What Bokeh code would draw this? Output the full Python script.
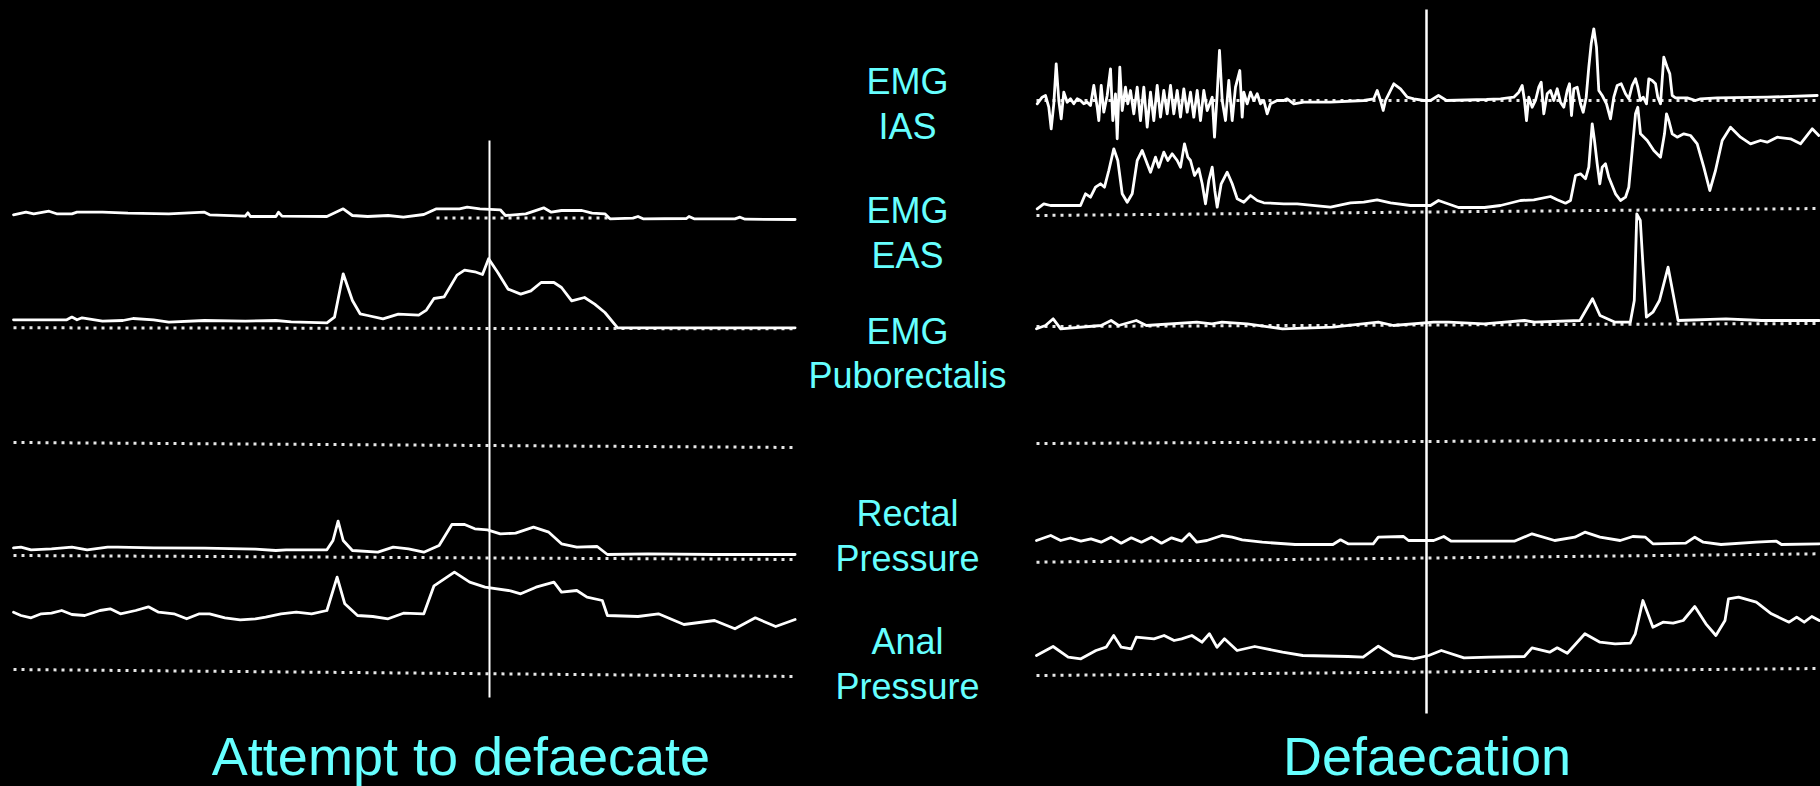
from bokeh.plotting import figure
from bokeh.layouts import row
from bokeh.models import Range1d, ColumnDataSource, Label, GlobalInlineStyleSheet
from bokeh.transform import dodge
from bokeh.core.properties import value
from bokeh.embed import file_html
from bokeh.resources import INLINE

# ---------------- DATA: (time s, amplitude a.u. above the channel's zero) ----------------
# Left record: "Attempt to defaecate"
attempt_ias = [(0, 3.2), (1.25, 5.8), (2.02, 4.2), (3.55, 6.8), (4.31, 4.2), (5.84, 4.2), (6.35, 5.8),
               (8.9, 5.8), (11.45, 4.8), (15.53, 4.2), (19.1, 5.8), (19.61, 3.2), (23.18, 1.8), (23.44, 5.2),
               (23.69, 1.5), (26.24, 1.5), (26.5, 5.8), (26.85, 1.8), (31.34, 1.5), (32.97, 9.2), (33.89, 2.5),
               (35.42, 1.5), (37.46, 2.5), (38.99, 0.8), (41.03, 3.5), (42.3, 9.2), (44.6, 9.2), (45.37, 10.8),
               (46.64, 9.2), (48.68, 8.2), (49.19, 2.5), (51.23, 4.2), (53.02, 10.2), (53.78, 5.8), (54.8, 7.5),
               (56.84, 7.5), (57.86, 4.8), (59.14, 4.2), (59.65, -0.8), (61.94, -0.2), (62.45, 1.5), (62.96, -0.8),
               (67.3, -0.5), (67.55, 1.5), (68.06, -0.8), (72.14, -0.8), (72.65, 0.8), (73.16, -1.2), (78.16, -1.5)]
attempt_eas = [(0, 8), (5.33, 8), (5.84, 10.7), (6.35, 8), (6.86, 10), (8.9, 6.7), (10.94, 7.3), (11.96, 9.3),
               (14, 8), (15.53, 5.7), (19.1, 7.3), (23.18, 6.7), (26.24, 7.3), (27.77, 6), (31.34, 5), (32.1, 10.7),
               (32.97, 54), (33.89, 27.3), (34.66, 14), (35.42, 12.3), (36.95, 9), (38.48, 13.7), (40.52, 12.7),
               (41.29, 17.7), (42.05, 29.3), (43.07, 31), (44.35, 52.7), (45.11, 57.7), (46.13, 56), (46.9, 53.3),
               (47.51, 69), (48.43, 55.3), (49.45, 38.7), (50.72, 33.7), (51.74, 37), (52.76, 45.3), (54.04, 45.3),
               (54.8, 40.3), (55.82, 27), (57.1, 30.3), (58.12, 23.7), (59.14, 15.3), (60.41, 0), (78.16, 0)]
attempt_rectal = [(0, 9.7), (0.74, 10.3), (1.76, 7.7), (3.8, 8.7), (5.84, 10.3), (7.37, 7.7), (9.41, 10.3),
                  (10.43, 10.3), (14, 9.7), (19.1, 9.3), (24.2, 8.3), (26.24, 7), (27.26, 7.7), (31.34, 7.7),
                  (31.95, 17), (32.46, 36.3), (32.97, 17), (33.89, 7), (36.44, 5.3), (37.97, 10.3), (39.5, 8.7),
                  (41.03, 5.3), (42.56, 12), (43.84, 33), (45.11, 33), (46.13, 28.7), (47.4, 27.7), (48.68, 23.7),
                  (50.21, 24.3), (52, 30.3), (53.53, 25.3), (54.8, 13.7), (56.33, 10.3), (58.37, 11), (59.39, 3),
                  (63.47, 3.7), (70.1, 3), (78.16, 3)]
attempt_anal = [(0, 60.3), (0.74, 57), (1.76, 54.7), (2.78, 58.7), (3.8, 59.3), (4.82, 62), (5.84, 58), (7.12, 57),
                (8.65, 62), (9.67, 63.7), (10.69, 58.7), (12.22, 62), (13.49, 65.7), (14.51, 60.3), (16.04, 58.7),
                (17.32, 53.7), (18.59, 58.7), (19.61, 58.7), (21.14, 54.7), (22.67, 52.7), (24.2, 53.7),
                (25.22, 55.3), (26.75, 58.7), (28.28, 60.3), (29.81, 58.7), (31.34, 62), (32.36, 95.3),
                (33.13, 68.7), (34.4, 57), (35.93, 56), (37.46, 53.7), (38.99, 59.3), (41.03, 58.7), (42.05, 86.7),
                (44.09, 100.3), (45.62, 90.3), (47.15, 85.3), (49.7, 81.7), (50.72, 78.7), (52.25, 85.3),
                (54.04, 90.3), (54.8, 80.3), (56.33, 82), (57.35, 75.3), (58.88, 72), (59.39, 57), (62.45, 56),
                (64.49, 58.7), (67.04, 48), (70.1, 52), (72.14, 43.7), (74.18, 54.7), (76.22, 46), (78.16, 53)]
attempt_event_t = 47.6

# Right record: "Defaecation"
defaec_ias = [(0.07, -3.3), (0.57, 3.3), (0.9, 5), (1.23, -6.7), (1.47, -28.3), (1.73, -3.3), (1.97, 36.7),
              (2.23, 0), (2.47, -18.3), (2.73, 8.3), (3.07, -1.7), (3.4, 1.7), (3.73, -3.3), (4.07, 1.7), (4.4, 0),
              (4.73, -3.3), (5.07, -1.7), (5.4, -5), (5.73, 15), (6.07, -6.7), (6.23, -20), (6.47, 15),
              (6.73, -11.7), (7.07, 5), (7.4, 31.7), (7.63, -20), (7.9, 6.7), (8.07, -38.3), (8.33, 33.3),
              (8.57, -10), (8.9, 13.3), (9.13, -3.3), (9.4, 10), (9.73, -13.3), (10.07, 13.3), (10.4, -20),
              (10.73, 13.3), (11.07, -26.7), (11.4, 8.3), (11.73, -20), (12.07, 15), (12.4, -16.7), (12.73, 10),
              (13.07, -13.3), (13.4, 15), (13.73, -13.3), (14.07, 10), (14.4, -16.7), (14.73, 11.7),
              (15.07, -11.7), (15.4, 8.3), (15.73, -16.7), (16.07, 10), (16.4, -20), (16.73, 10), (17.07, -10),
              (17.57, 3.3), (17.8, -36.7), (18.07, 6.7), (18.3, 50), (18.57, 0), (18.9, -20), (19.23, 20),
              (19.57, -20), (19.9, 13.3), (20.33, 30), (20.57, -16.7), (20.73, 8.3), (21.07, -3.3), (21.4, 8.3),
              (21.73, 0), (22.07, 6.7), (22.4, -3.3), (22.73, 0), (23.07, -13.3), (23.4, -3.3), (24.07, 0),
              (24.73, 0), (25.07, 1.7), (25.73, -3.3), (26.73, -1.7), (29.4, -1.7), (32.73, 0), (33.73, 1.7),
              (34.07, 10), (34.4, 0), (34.67, -10), (34.9, 0), (35.73, 16.7), (36.4, 11.7), (37.07, 3.3),
              (37.73, 1.7), (38.73, 0), (39.4, 0), (40.2, 5), (41.0, 0), (45.0, 1), (46.4, 1.7), (47.73, 3.3),
              (48.23, 8.3), (48.57, 15), (48.8, 0), (49.0, -20), (49.23, 3.3), (49.57, -6.7), (49.9, 0),
              (50.23, 13.3), (50.47, 18.3), (50.73, -13.3), (51.07, 6.7), (51.4, 10), (51.73, 0), (52.07, 11.7),
              (52.4, -1.7), (52.73, -6.7), (53.07, 10), (53.3, 16.7), (53.5, -15), (53.73, 11.7), (54.07, 13.3),
              (54.4, -3.3), (54.67, -11.7), (54.97, 3.3), (55.23, 33.3), (55.47, 56.7), (55.73, 71.7),
              (56.0, 53.3), (56.23, 10), (56.57, 5), (57.0, -3.3), (57.4, -18.3), (57.73, 3.3), (58.07, 15),
              (58.47, 16.7), (58.9, 6.7), (59.23, 1.7), (59.57, 15), (59.9, 21.7), (60.13, 13.3), (60.4, 0),
              (60.67, 3.3), (61.0, -3.3), (61.23, 21.7), (61.57, 20), (61.9, 16.7), (62.13, 3.3), (62.4, -3.3),
              (62.73, 43.3), (63.07, 33.3), (63.33, 26.7), (63.57, 5), (63.9, 2.7), (65.07, 2.7), (65.9, 0),
              (66.4, 1.7), (68.07, 2.7), (73.07, 3.3), (78.07, 5)]
defaec_eas = [(0.07, -3.3), (0.73, 1.7), (1.4, 0), (4.4, 0), (4.9, 11.7), (5.4, 8.3), (5.9, 18.3), (6.4, 21.7),
              (6.8, 18.3), (7.23, 35), (7.73, 56.7), (8.13, 45), (8.57, 11.7), (9.07, 3.3), (9.57, 11.7),
              (10.07, 45), (10.57, 55), (11.07, 41.7), (11.4, 33.3), (11.9, 48.3), (12.23, 38.3), (12.73, 53.3),
              (13.13, 45), (13.57, 51.7), (14.07, 45), (14.4, 38.3), (14.8, 61.7), (15.13, 48.3), (15.4, 45),
              (15.8, 30), (16.23, 36.7), (16.57, 21.7), (16.9, 1.7), (17.23, 25), (17.57, 38.3), (17.83, 15),
              (18.07, -1.7), (18.47, 21.7), (19.07, 33.3), (19.57, 21.7), (20.07, 6.7), (20.73, 3.3), (21.4, 10),
              (22.07, 5), (22.73, 2.7), (24.73, 1.7), (26.07, 1.7), (29.4, -1.7), (31.4, 2.7), (32.73, 3.3),
              (34.07, 5.7), (35.4, 2.7), (37.4, 0), (39.4, 0), (40.2, 5), (42.2, -2), (44.8, -2), (46.4, 0),
              (48.4, 5), (49.73, 5.7), (51.4, 9), (52.07, 5.7), (52.9, 2.3), (53.4, 5), (53.9, 30), (54.4, 31.7),
              (54.9, 26.7), (55.23, 38.3), (55.57, 81.7), (55.8, 65), (56.07, 41.7), (56.33, 21.7), (56.57, 38.3),
              (56.9, 41.7), (57.23, 28.3), (57.9, 11.7), (58.4, 5), (58.9, 8.3), (59.23, 18.3), (59.57, 55),
              (59.9, 91.7), (60.13, 98.3), (60.4, 71.7), (61.07, 65), (61.73, 55), (62.4, 48.3), (62.8, 71.7),
              (63.0, 91.7), (63.23, 85), (63.57, 71.7), (64.07, 68.3), (64.73, 71.7), (65.4, 70), (66.07, 61.7),
              (66.73, 38.3), (67.33, 15), (67.9, 35), (68.57, 65), (69.4, 78.3), (70.4, 68.3), (71.4, 61.7),
              (72.4, 65), (73.07, 63.3), (74.07, 68.3), (75.4, 66.7), (76.4, 61.7), (77.57, 76.7), (78.23, 70)]
defaec_pub = [(0, -1.3), (0.9, 2), (1.67, 8.7), (2.42, -1.3), (6.46, 2), (7.46, 7), (8.22, 2), (9.98, 7),
              (10.99, 2), (16.03, 5.3), (17.54, 3.7), (18.55, 5.3), (21.07, 3.7), (24.6, -1.3), (29.64, 0.3),
              (34.18, 5.3), (35.69, 2), (39.72, 5.3), (41.23, 5.3), (44.76, 3.7), (48.79, 7), (49.8, 5.3),
              (54.34, 7), (55.6, 28.7), (56.35, 12), (57.86, 5.3), (59.38, 5.3), (59.78, 27), (60.03, 113.7),
              (60.38, 107), (60.64, 63.7), (60.99, 10.3), (61.64, 15.3), (62.3, 27), (63.16, 60.3), (63.66, 33.7),
              (64.16, 7), (68.95, 8.7), (72.48, 7), (78.28, 7)]
defaec_rectal = [(0, 0), (1.42, 5), (2.42, 0), (3.4, 2.5), (4.44, -0.7), (5.45, 1.7), (6.46, -1.7), (7.46, 3.3),
                 (8.47, -2.7), (9.48, 2.7), (10.49, -1.7), (11.5, 3.3), (12.5, -2.7), (13.51, 2.7), (14.52, -0.7),
                 (15.28, 6.7), (16.03, -1.7), (17.04, 0), (18.55, 5), (19.56, 3.3), (20.57, 0.7), (22.58, -1.7),
                 (25.86, -4), (29.64, -4), (30.4, 0.7), (31.15, -3.3), (33.67, -3.3), (34.18, 3.3), (36.7, 4),
                 (37.2, 0), (39.72, 0), (40.73, 4), (41.48, -0.7), (47.78, -0.7), (49.55, 6.7), (51.82, 0),
                 (53.83, 3.3), (54.84, 8.3), (56.35, 3.3), (58.37, 0), (59.63, 4), (60.89, 3.3), (61.64, -3.3),
                 (64.92, -2.7), (65.83, 3.3), (66.68, -1.7), (68.45, -4), (71.98, -1.7), (73.99, -0.7),
                 (74.5, -4), (78.28, -3.3)]
defaec_anal = [(0, -2), (1.66, 7), (3.17, -3.7), (4.44, -5.3), (5.95, 3), (6.96, 6.3), (7.72, 18), (8.47, 6.3),
               (9.48, 4.7), (9.98, 16.3), (10.74, 15.7), (11.75, 14.7), (12.76, 18), (13.76, 13), (14.52, 14.7),
               (15.53, 18), (16.54, 11.3), (17.29, 19.7), (18.05, 6.3), (18.8, 14.7), (20.06, 3), (21.83, 7),
               (24.6, 1.3), (26.62, -2), (31.15, -3), (32.66, -3.7), (34.18, 7.3), (35.69, -2), (37.7, -5.3),
               (39.22, -2), (40.48, 3), (42.75, -4.3), (45.27, -3.7), (48.79, -3), (49.55, 5.7), (51.31, 1.3),
               (52.07, 5.7), (53.08, 0.3), (54.84, 19.7), (56.35, 11.3), (57.86, 9.7), (59.38, 10.3),
               (59.88, 19.7), (60.64, 53), (61.64, 26.3), (62.65, 31.3), (63.66, 30.3), (64.67, 33), (65.83, 47),
               (66.94, 29.7), (67.94, 18), (68.85, 33), (69.2, 54.7), (70.21, 56.3), (71.98, 51.3), (73.49, 39.7),
               (75.26, 31.3), (76.02, 36.3), (76.77, 31.3), (77.53, 37), (78.28, 33)]
defaec_event_t = 39.0

channel_labels = [("EMG", "IAS"), ("EMG", "EAS"), ("EMG", "Puborectalis"),
                  ("Rectal", "Pressure"), ("Anal", "Pressure")]
panel_titles = ["Attempt to defaecate", "Defaecation"]

# ---------------- LAYOUT / STYLE ----------------
PANEL_H = 786
LEFT_W, MID_W, RIGHT_W = 800, 230, 790
TRACE = "#ffffff"
CYAN = "#66ffff"
FONT = "Liberation Sans"

# vertical position of each channel's zero (panel units from bottom)
left_zero = {"ias": 568.5, "eas": 458.7, "rectal": 229.0, "anal": 114.0}
right_zero = {"ias": 686.0, "eas": 581.0, "pub": 459.0, "rectal": 246.0, "anal": 133.0}
# dotted reference lines: (t0, t1, y0, y1)
left_dots = [(42.3, 59.4, 568.5, 568.5), (0, 78.2, 458.7, 457.7), (0, 78.2, 344, 339),
             (0, 78.2, 231, 227), (0, 78.2, 117, 110)]
right_dots = [(0, 78.3, 686, 686), (0, 78.3, 571, 578), (0, 78.3, 460, 463), (0, 78.3, 343, 347),
              (0, 78.3, 224.3, 232.7), (0, 78.3, 111, 118)]
left_event_span = (89, 646)
right_event_span = (73, 777)
label_x = 107
label_baselines = [(705, 660), (576, 531), (455, 411), (273, 228), (145, 100)]
title_y = 31


def panel(width, t0, t1):
    p = figure(width=width, height=PANEL_H, x_range=Range1d(t0, t1), y_range=Range1d(0, PANEL_H),
               output_backend="svg", toolbar_location=None, x_axis_location=None, y_axis_location=None,
               min_border=0, background_fill_color="black", border_fill_color="black",
               outline_line_color=None)
    p.grid.visible = False
    return p


def draw_dots(p, dots):
    p.segment(x0=[d[0] for d in dots], x1=[d[1] for d in dots], y0=[d[2] for d in dots],
              y1=[d[3] for d in dots], line_color="#e6e6e6", line_width=3, line_dash="3 5")


def draw_trace(p, pairs, zero):
    src = ColumnDataSource(dict(t=[a for a, _ in pairs], v=[b for _, b in pairs]))
    p.line(x="t", y=dodge("v", zero), source=src, line_color=TRACE, line_width=2.8,
           line_join="round", line_cap="round")


left = panel(LEFT_W, -1.3, 78.7)
draw_dots(left, left_dots)
draw_trace(left, attempt_ias, left_zero["ias"])
draw_trace(left, attempt_eas, left_zero["eas"])
draw_trace(left, attempt_rectal, left_zero["rectal"])
draw_trace(left, attempt_anal, left_zero["anal"])
left.segment(x0=[attempt_event_t], x1=[attempt_event_t], y0=[left_event_span[0]], y1=[left_event_span[1]],
             line_color=TRACE, line_width=2)
left.add_layout(Label(x=44.75, y=title_y, text=panel_titles[0], text_align="center",
                      text_baseline="alphabetic", text_font=FONT, text_font_size="54px", text_color=CYAN))

right = panel(RIGHT_W, -0.6, 78.4)
draw_dots(right, right_dots)
draw_trace(right, defaec_ias, right_zero["ias"])
draw_trace(right, defaec_eas, right_zero["eas"])
draw_trace(right, defaec_pub, right_zero["pub"])
draw_trace(right, defaec_rectal, right_zero["rectal"])
draw_trace(right, defaec_anal, right_zero["anal"])
right.segment(x0=[defaec_event_t], x1=[defaec_event_t], y0=[right_event_span[0]], y1=[right_event_span[1]],
              line_color=TRACE, line_width=2.5)
right.add_layout(Label(x=39.05, y=title_y, text=panel_titles[1], text_align="center",
                       text_baseline="alphabetic", text_font=FONT, text_font_size="54px", text_color=CYAN))

mid = figure(width=MID_W, height=PANEL_H, x_range=Range1d(0, MID_W), y_range=Range1d(0, PANEL_H),
             output_backend="svg", toolbar_location=None, x_axis_location=None, y_axis_location=None,
             min_border=0, background_fill_color="black", border_fill_color="black", outline_line_color=None)
mid.grid.visible = False
lab_text, lab_y = [], []
for (l1, l2), (y1, y2) in zip(channel_labels, label_baselines):
    lab_text += [l1, l2]
    lab_y += [y1, y2]
mid.text(x=[label_x] * len(lab_text), y=lab_y, text=lab_text, text_align="center",
         text_baseline="alphabetic", text_font=value(FONT), text_font_size="36px", text_color=CYAN)

layout = row(left, mid, right)
layout.stylesheets = [GlobalInlineStyleSheet(
    css="html, body { background: #000000 !important; margin: 0 !important; padding: 0 !important; overflow: hidden; }")]

open("out.html", "w").write(file_html(layout, INLINE))
